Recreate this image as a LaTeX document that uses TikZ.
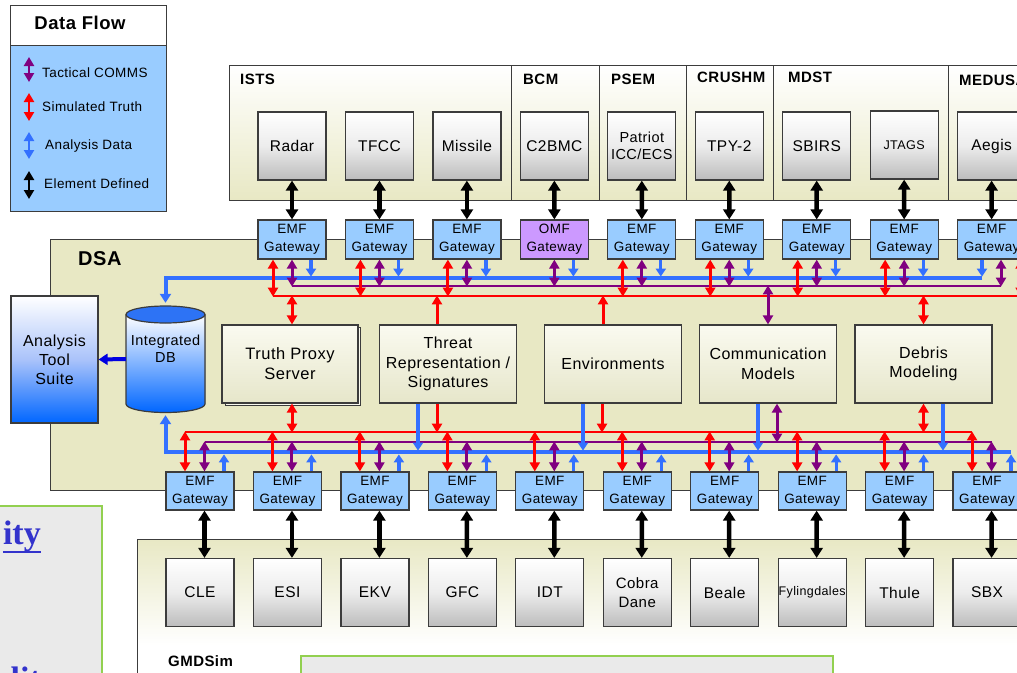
\documentclass[tikz,border=0pt]{standalone}
\usepackage{fontspec}
\setmainfont{Liberation Sans}[LetterSpace=3]
\newfontfamily\serifbf{Liberation Serif}
\usetikzlibrary{arrows.meta,calc}
\definecolor{khaki}{RGB}{232,232,196}
\definecolor{gwblue}{RGB}{153,204,255}
\definecolor{omf}{RGB}{204,153,255}
\definecolor{rd}{RGB}{255,0,0}
\definecolor{pu}{RGB}{128,0,128}
\definecolor{bl}{RGB}{51,112,255}
\definecolor{edge}{RGB}{60,60,60}
\definecolor{grn}{RGB}{146,208,80}
\definecolor{lgray}{RGB}{234,234,234}
\definecolor{linkblue}{RGB}{51,51,204}
\definecolor{atsblue}{RGB}{0,102,255}
\definecolor{dbtop}{RGB}{45,115,245}
\definecolor{elemgray}{RGB}{188,188,188}
\definecolor{midtop}{RGB}{250,250,240}
\definecolor{midbot}{RGB}{230,230,202}
\tikzset{
  elem/.style={draw=edge, line width=1.2pt, top color=white, bottom color=elemgray,
    middle color={rgb,255:red,236;green,236;blue,236},
    minimum width=68pt, minimum height=68pt, inner sep=1pt, align=center,
    font=\fontsize{15.5}{19}\selectfont},
  gw/.style={draw=edge, line width=1.2pt, fill=gwblue, minimum width=68pt,
    minimum height=39pt, inner sep=0pt, align=center, font=\fontsize{13.5}{18}\selectfont},
  midbox/.style={draw=edge, line width=1.2pt, top color=midtop, bottom color=midbot,
    minimum width=137pt, minimum height=78pt, inner sep=1pt, align=center,
    font=\fontsize{16}{19.5}\selectfont},
  plabel/.style={anchor=west, inner sep=0pt, font=\bfseries\fontsize{15}{18}\selectfont},
  legtext/.style={anchor=west, inner sep=0pt, font=\fontsize{13.5}{16}\selectfont},
  blk/.style={draw=black, line width=4.5pt, >={Triangle[width=12pt,length=10pt]}, <->},
  rda/.style={draw=rd, line width=3pt, >={Triangle[width=10pt,length=9pt]}, <->},
  pua/.style={draw=pu, line width=3pt, >={Triangle[width=10pt,length=9pt]}, <->},
  rds/.style={draw=rd, line width=3pt, >={Triangle[width=10pt,length=9pt]}, ->},
  bla/.style={draw=bl, line width=3.2pt, >={Triangle[width=10pt,length=8pt]}, ->},
  redbus/.style={draw=rd, line width=2.6pt},
  purbus/.style={draw=pu, line width=2.6pt},
  bluebusarr/.style={draw=bl, line width=4pt, >={Triangle[width=11pt,length=9pt]}, ->}
}
\begin{document}
\begin{tikzpicture}[x=1pt,y=-1pt]
\useasboundingbox (0,0) rectangle (1017,672);

% ---------- panels ----------
\draw[draw=edge, line width=1pt, top color=white, bottom color=khaki] (229,65) rectangle (1030,200);
\foreach \x in {511,599,686,773,948} \draw[edge, line width=1pt] (\x,65) -- (\x,200);
\node[plabel] (lists) at (240,79) {ISTS};
\node[plabel] (lbcm) at (523,79) {BCM};
\node[plabel] (lpsem) at (611,79) {PSEM};
\node[plabel] (lcrushm) at (697,77.5) {CRUSHM};
\node[plabel] (lmdst) at (788,77.5) {MDST};
\node[plabel] (lmedusa) at (959,80) {MEDUSA};

\draw[draw=edge, line width=1pt, fill=khaki] (50,239) rectangle (1030,490);
\node[anchor=west, inner sep=0pt, font=\bfseries\fontsize{20}{24}\selectfont] (dsa) at (78,259) {DSA};

\fill[top color=khaki, bottom color=white] (137,539) rectangle (1030,645);
\fill[white] (137,645) rectangle (1030,700);
\draw[edge, line width=1pt] (137,700) -- (137,539) -- (1030,539);
\node[plabel] (lgmd) at (168,661) {GMDSim};
\draw[grn, line width=2.5pt, fill=lgray] (301,656) rectangle (833,700);

% left partial box
\draw[grn, line width=2.5pt, fill=lgray] (-10,506) rectangle (102,700);
\node[anchor=base east, inner sep=0pt, text=linkblue, font=\serifbf\bfseries\fontsize{34}{40}\selectfont] (ity) at (41,544) {ity};
\draw[linkblue, line width=2.2pt] ([yshift=-8pt]ity.base west) -- ([yshift=-8pt]ity.base east);
\node[anchor=base east, inner sep=0pt, text=linkblue, font=\serifbf\bfseries\fontsize{34}{40}\selectfont] (alit) at (41,690) {alit};

% ---------- legend ----------
\draw[edge, line width=1pt, fill=white] (10,5) rectangle (166,45);
\draw[edge, line width=1pt, fill=gwblue] (10,45) rectangle (166,211);
\node[font=\bfseries\fontsize{18.5}{22}\selectfont] (legtitle) at (80,23) {Data Flow};
\coordinate (lg1a) at (29,57); \coordinate (lg1b) at (29,82);
\coordinate (lg2a) at (29,93); \coordinate (lg2b) at (29,121);
\coordinate (lg3a) at (29,132); \coordinate (lg3b) at (29,159);
\coordinate (lg4a) at (29,171); \coordinate (lg4b) at (29,199);
\draw[pua, line width=2.8pt] (lg1a) -- (lg1b);
\draw[rda, line width=2.8pt] (lg2a) -- (lg2b);
\draw[draw=bl, line width=2.8pt, >={Triangle[width=10pt,length=9pt]}, <->] (lg3a) -- (lg3b);
\draw[draw=black, line width=2.8pt, >={Triangle[width=10pt,length=9pt]}, <->] (lg4a) -- (lg4b);
\node[legtext] (lt1) at (42,73) {Tactical COMMS};
\node[legtext] (lt2) at (42,107) {Simulated Truth};
\node[legtext] (lt3) at (45,146) {Analysis Data};
\node[legtext] (lt4) at (44,184) {Element Defined};

% ---------- top elements ----------
\node[elem] (t1) at (292,146) {Radar};
\node[elem] (t2) at (379.45,146) {TFCC};
\node[elem] (t3) at (466.9,146) {Missile};
\node[elem] (t4) at (554.35,146) {C2BMC};
\node[elem, font=\fontsize{14.5}{17}\selectfont] (t5) at (641.8,146) {Patriot\\ICC/ECS};
\node[elem] (t6) at (729.25,146) {TPY-2};
\node[elem] (t7) at (816.7,146) {SBIRS};
\node[elem, font=\fontsize{12.6}{15}\selectfont] (t8) at (904.15,145) {JTAGS};
\node[elem] (t9) at (991.6,146) {Aegis};

\foreach \i in {1,...,9}{
  \pgfmathsetmacro\cx{292+87.45*(\i-1)}
  \ifnum\i=4
    \node[gw, fill=omf] (tg\i) at (\cx,239.5) {OMF\\Gateway};
  \else
    \node[gw] (tg\i) at (\cx,239.5) {EMF\\Gateway};
  \fi
  \draw[blk] (t\i.south) -- (tg\i.north);
}

% ---------- DSA contents ----------
\node[draw=edge, line width=1.2pt, top color=white, bottom color=atsblue,
  middle color={rgb,255:red,170;green,195;blue,250},
  minimum width=87pt, minimum height=127pt, align=center,
  font=\fontsize{16}{19}\selectfont] (ats) at (54.5,359.5) {Analysis\\Tool\\Suite};

% integrated DB cylinder
\fill[top color=white, bottom color=atsblue] (126,314.5) -- (126,404)
  arc[start angle=180, end angle=0, x radius=39.5, y radius=8.5] -- (205,314.5) -- cycle;
\draw[edge, line width=1.2pt] (126,314.5) -- (126,404)
  arc[start angle=180, end angle=0, x radius=39.5, y radius=8.5] -- (205,314.5);
\draw[edge, line width=1.2pt, fill=dbtop] (165.5,314.5) ellipse[x radius=39.5, y radius=8.5];
\node[minimum width=79pt, minimum height=106pt, inner sep=0pt] (db) at (165.5,359) {};
\node[align=center, font=\fontsize{14.5}{17}\selectfont] (dbt) at (165.5,348.5) {Integrated\\DB};
\draw[draw={rgb,255:red,0;green,0;blue,225}, line width=4pt, >={Triangle[width=11pt,length=9pt]}, ->] (db.west) -- (ats.east);

% middle boxes
\draw[edge, line width=1pt, fill=midtop] (225,327.5) rectangle (360.5,405);
\node[midbox, minimum width=136pt, font=\fontsize{16.5}{20}\selectfont] (tps) at (290,364) {Truth Proxy\\Server};
\node[midbox] (threat) at (448,364) {Threat\\Representation /\\Signatures};
\node[midbox] (env) at (613,364) {Environments};
\node[midbox] (comm) at (768,364) {Communication\\Models};
\node[midbox] (debris) at (923.5,364) {Debris\\Modeling};

% ---------- bottom gateways & elements ----------
\node[elem] (b1) at (200,592.5) {CLE};
\node[elem] (b2) at (287.45,592.5) {ESI};
\node[elem] (b3) at (374.9,592.5) {EKV};
\node[elem] (b4) at (462.35,592.5) {GFC};
\node[elem] (b5) at (549.8,592.5) {IDT};
\node[elem, font=\fontsize{15}{19.5}\selectfont] (b6) at (637.25,592.5) {Cobra\\Dane};
\node[elem] (b7) at (724.7,592.5) {Beale};
\node[elem, font=\fontsize{12.5}{15}\selectfont, inner sep=0pt] (b8) at (812.15,592.5) {Fylingdales};
\node[elem] (b9) at (899.6,592.5) {Thule};
\node[elem] (b10) at (987.05,592.5) {SBX};

\foreach \j in {1,...,10}{
  \pgfmathsetmacro\bx{200+87.45*(\j-1)}
  \node[gw, minimum height=38pt] (bg\j) at (\bx,491) {EMF\\Gateway};
  \draw[blk] ([xshift=4.5pt]bg\j.south) -- ([xshift=4.5pt]b\j.north);
}

% ---------- top bus ----------
\coordinate (tbR) at (982,278); \coordinate (tbL) at (165.5,278);
\coordinate (tpR) at (1001,286); \coordinate (tpL) at (292,286);
\coordinate (trR) at (1030,296); \coordinate (trL) at (273,296);
\draw[redbus] (trL) -- (trR);
\draw[purbus] (tpL) -- (tpR);
\draw[bluebusarr, shorten >=3pt] (tbR) -- (tbL) -- (db.north);

\foreach \i in {1,2,3,5,6,7,8}{
  \draw[rda] ([xshift=-19pt]tg\i.south) -- ++(0,37);
  \draw[pua] (tg\i.south) -- ++(0,27);
  \draw[bla] ([xshift=19pt]tg\i.south) -- ++(0,17);
}
\draw[pua] (tg4.south) -- ++(0,27);
\draw[bla] ([xshift=19pt]tg4.south) -- ++(0,17);
\draw[bla] ([xshift=-9.6pt]tg9.south) -- ++(0,17);
\draw[pua] ([xshift=9.4pt]tg9.south) -- ++(0,27);
\draw[rda] ([xshift=29pt]tg9.south) -- ++(0,37);

% mid boxes to top bus
\draw[rda] ([xshift=2pt]tps.north) -- ++(0,-29);
\draw[rds] ([xshift=-11pt]threat.north) -- ++(0,-29);
\draw[rds] ([xshift=-10pt]env.north) -- ++(0,-29);
\draw[pua] (comm.north) -- ++(0,-39);
\draw[rda] (debris.north) -- ++(0,-29);

% ---------- bottom bus ----------
\coordinate (bbL) at (165.5,452); \coordinate (bbR) at (1011,452);
\coordinate (bpL) at (204.5,442); \coordinate (bpR) at (991.5,442);
\coordinate (brL) at (185,432); \coordinate (brR) at (972,432);
\draw[redbus] (brL) -- (brR);
\draw[purbus] (bpL) -- (bpR);
\draw[bluebusarr, shorten >=3pt] (bbR) -- (bbL) -- (db.south);

\foreach \j in {1,...,10}{
  \draw[rda] ([xshift=-15pt]bg\j.north) -- ++(0,-40);
  \draw[pua] ([xshift=4.5pt]bg\j.north) -- ++(0,-30);
  \draw[bla] ([xshift=24pt]bg\j.north) -- ++(0,-17);
}

% mid boxes to bottom bus
\draw[rda] ([xshift=2pt]tps.south) -- ++(0,29);
\draw[bla] ([xshift=-30pt]threat.south) -- ++(0,47);
\draw[rds] ([xshift=-11pt]threat.south) -- ++(0,29);
\draw[bla] ([xshift=-30pt]env.south) -- ++(0,47);
\draw[rds] ([xshift=-11pt]env.south) -- ++(0,29);
\draw[bla] ([xshift=-10pt]comm.south) -- ++(0,47);
\draw[pua] ([xshift=9pt]comm.south) -- ++(0,39);
\draw[rda] (debris.south) -- ++(0,29);
\draw[bla] ([xshift=19.5pt]debris.south) -- ++(0,47);
\end{tikzpicture}
\end{document}
